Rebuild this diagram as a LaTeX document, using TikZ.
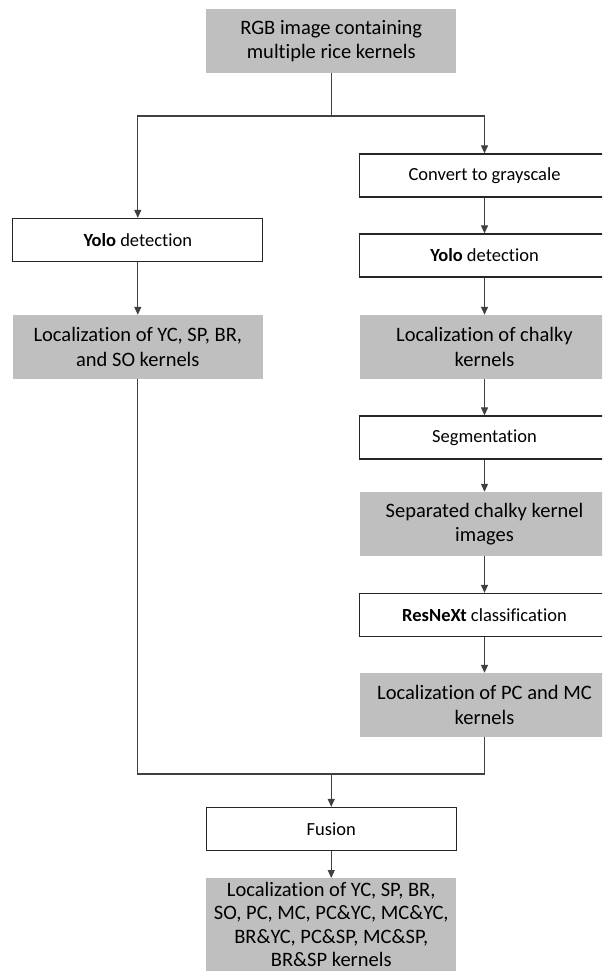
\documentclass[tikz,border=0pt]{standalone}
\usepackage{fontspec}
\setmainfont{Carlito}[Ligatures=NoCommon]
\usetikzlibrary{arrows.meta}
\definecolor{boxgray}{RGB}{191,191,191}
\definecolor{linegray}{RGB}{64,64,64}
\begin{document}
\begin{tikzpicture}[x=1pt,y=-1pt,
 graybox/.style={fill=boxgray, draw=none, minimum width=250pt, minimum height=64pt, inner sep=0pt, align=center, font=\fontsize{20.5}{24.5}\selectfont},
 whitebox/.style={fill=white, draw=black!85, line width=1.3pt, minimum width=250pt, minimum height=43pt, inner sep=0pt, align=center, font=\fontsize{18.5}{22}\selectfont},
 conn/.style={draw=linegray, line width=1.2pt},
 arr/.style={conn, -{Triangle[length=8pt,width=7pt]}}]
\useasboundingbox (0,0) rectangle (602,973);
\clip (0,0) rectangle (602,973);
\fill[white] (0,0) rectangle (602,973);

\node[graybox] (rgb) at (331.25,41) {RGB image containing\\multiple rice kernels};
\node[whitebox] (yoloL) at (137.8,240) {\textbf{Yolo} detection};
\node[whitebox] (gray) at (484.5,175.5) {Convert to grayscale};
\node[whitebox] (yoloR) at (484.5,255.5) {\textbf{Yolo} detection};
\node[graybox] (locL) at (137.8,347) {Localization of YC, SP, BR,\\and SO kernels};
\node[graybox] (locC) at (484.5,347) {Localization of chalky\\kernels};
\node[whitebox] (seg) at (484.5,437.5) {Segmentation};
\node[graybox] (sep) at (484.5,524) {Separated chalky kernel\\images};
\node[whitebox] (res) at (484.5,615) {\textbf{ResNeXt} classification};
\node[graybox] (pcmc) at (484.5,705) {Localization of PC and MC\\kernels};
\node[whitebox] (fus) at (331.25,829) {Fusion};
\node[graybox, anchor=north, minimum height=0pt, inner ysep=4pt, font=\fontsize{20.5}{23.5}\selectfont] (final) at (331.25,878)
  {Localization of YC, SP, BR,\\SO, PC, MC, PC\&YC, MC\&YC,\\BR\&YC, PC\&SP, MC\&SP,\\BR\&SP kernels};

\coordinate (split) at (331.25,116);
\coordinate (merge) at (331.25,774);

\draw[conn] (rgb) -- (split);
\draw[arr] (split) -| (yoloL);
\draw[arr] (split) -| (gray);
\draw[arr] (gray) -- (yoloR);
\draw[arr] (yoloL) -- (locL);
\draw[arr] (yoloR) -- (locC);
\draw[arr] (locC) -- (seg);
\draw[arr] (seg) -- (sep);
\draw[arr] (sep) -- (res);
\draw[arr] (res) -- (pcmc);
\draw[conn] (locL) |- (merge);
\draw[conn] (pcmc) |- (merge);
\draw[arr] (merge) -- (fus);
\draw[arr] (fus) -- (final);
\end{tikzpicture}
\end{document}
